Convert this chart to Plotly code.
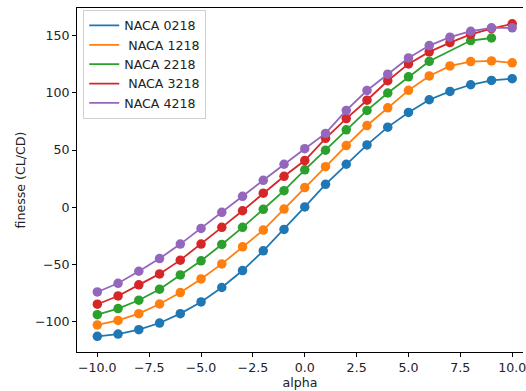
import plotly.graph_objects as go

alpha = [-10, -9, -8, -7, -6, -5, -4, -3, -2, -1, 0, 1, 2, 3, 4, 5, 6, 7, 8, 9, 10]

naca0218 = [-112.6, -110.6, -106.8, -101.0, -92.8, -82.6, -70.0, -55.2, -38.0, -19.3,
            0.3, 20.1, 37.6, 54.5, 70.0, 82.8, 93.9, 101.2, 107.0, 110.8, 112.3]
naca1218 = [-102.7, -98.7, -92.8, -84.4, -74.4, -62.5, -49.4, -34.5, -19.9, -1.5,
            17.2, 35.5, 53.9, 71.4, 86.9, 102.1, 114.7, 123.4, 127.2, 127.8, 126.1]
naca2218 = [-93.7, -88.4, -81.1, -71.5, -59.0, -46.7, -32.4, -17.5, -1.7, 14.5,
            32.7, 49.9, 67.7, 84.6, 99.8, 113.9, 127.5, None, 145.6, 147.8, None]
naca3218 = [-84.6, -77.4, -67.7, -58.1, -46.1, -32.1, -17.5, -3.0, 12.3, 27.1,
            40.8, 60.2, 77.5, 93.5, 110.5, 125.2, 135.7, 143.8, 151.0, 156.0, 160.2]
naca4218 = [-73.9, -66.3, -55.8, -44.7, -32.1, -18.4, -4.4, 9.6, 23.6, 37.6,
            51.2, 64.5, 84.6, 102.0, 116.2, 130.4, 141.2, 148.5, 153.7, 156.7, 156.7]

names = ["NACA 0218", "\u00a0NACA 1218", "NACA 2218", "\u00a0NACA 3218", "NACA 4218"]
series = [naca0218, naca1218, naca2218, naca3218, naca4218]
colors = ["#1f77b4", "#ff7f0e", "#2ca02c", "#d62728", "#9467bd"]

fig = go.Figure()
for name, ys, col in zip(names, series, colors):
    xs = [a for a, v in zip(alpha, ys) if v is not None]
    vs = [v for v in ys if v is not None]
    fig.add_trace(go.Scatter(x=xs, y=vs, mode="lines", name=name,
                             line=dict(color=col, width=1.8), showlegend=True))
    fig.add_trace(go.Scatter(x=xs, y=vs, mode="markers", name=name,
                             marker=dict(color=col, size=9.5, line=dict(width=0)),
                             showlegend=False))

font = dict(family="DejaVu Sans", size=12.6, color="#222222")

fig.update_layout(
    width=526, height=391,
    margin=dict(l=77, r=0, t=8, b=39),
    paper_bgcolor="white", plot_bgcolor="white",
    font=font,
    showlegend=True,
    legend=dict(x=0.014, y=0.995, xanchor="left", yanchor="top",
                bgcolor="rgba(255,255,255,0.8)", bordercolor="#d0d0d0", borderwidth=1,
                font=font, itemwidth=30, tracegroupgap=0),
    xaxis=dict(range=[-10.98, 10.52], tickmode="linear", tick0=0, dtick=2.5,
               tickformat=".1f", showgrid=False, zeroline=False,
               showline=True, linecolor="black", linewidth=1, mirror=True,
               ticks="outside", ticklen=4, tickcolor="black",
               ticklabeloverflow="allow",
               title=dict(text="alpha", font=font, standoff=4)),
    yaxis=dict(range=[-126.3, 174.0], tickmode="linear", tick0=0, dtick=50,
               showgrid=False, zeroline=False,
               showline=True, linecolor="black", linewidth=1, mirror=False,
               ticks="outside", ticklen=4, tickcolor="black",
               title=dict(text="finesse (CL/CD)", font=font, standoff=6)),
)

fig.write_html("out.html")
